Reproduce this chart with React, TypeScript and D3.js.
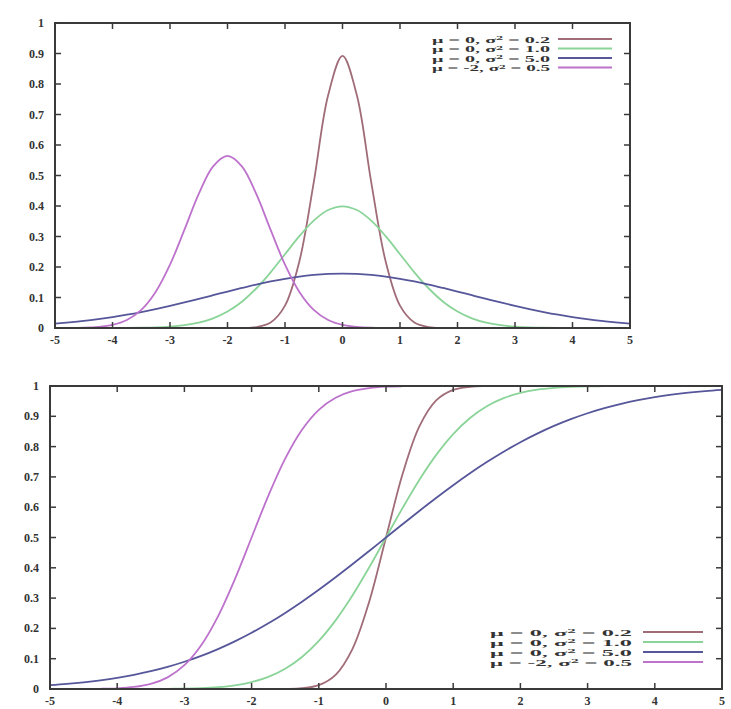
import React from 'react';
import * as d3 from 'd3';

// x grid shared by all series
const xValues = [
  -5, -4.75, -4.5, -4.25, -4, -3.75, -3.5, -3.25, -3, -2.75, -2.5, -2.25, -2, -1.75, -1.5, -1.25, -1, -0.75, -0.5, -0.25,
  0, 0.25, 0.5, 0.75, 1, 1.25, 1.5, 1.75, 2, 2.25, 2.5, 2.75, 3, 3.25, 3.5, 3.75, 4, 4.25, 4.5, 4.75, 5,
];

// top panel (density) values
const pdfRed = [
  0, 0, 0, 0, 0, 0, 0, 0, 0, 0, 0, 0, 0.00004, 0.0004, 0.0032, 0.018, 0.0732, 0.2187, 0.4775, 0.763,
  0.892, 0.763, 0.4775, 0.2187, 0.0732, 0.018, 0.0032, 0.0004, 0.00004, 0, 0, 0, 0, 0, 0, 0, 0, 0, 0, 0, 0,
];
const pdfGreen = [
  0, 0.00001, 0.00002, 0.00005, 0.00013, 0.00035, 0.00087, 0.002, 0.0044, 0.0091, 0.0175, 0.0317, 0.054, 0.0863, 0.1295, 0.1826, 0.242, 0.3011, 0.3521, 0.3867,
  0.3989, 0.3867, 0.3521, 0.3011, 0.242, 0.1826, 0.1295, 0.0863, 0.054, 0.0317, 0.0175, 0.0091, 0.0044, 0.002, 0.00087, 0.00035, 0.00013, 0.00005, 0.00002, 0.00001, 0,
];
const pdfBlue = [
  0.0146, 0.0187, 0.0235, 0.0293, 0.036, 0.0437, 0.0524, 0.062, 0.0725, 0.0837, 0.0955, 0.1075, 0.1196, 0.1313, 0.1425, 0.1526, 0.1614, 0.1687, 0.174, 0.1773,
  0.1784, 0.1773, 0.174, 0.1687, 0.1614, 0.1526, 0.1425, 0.1313, 0.1196, 0.1075, 0.0955, 0.0837, 0.0725, 0.062, 0.0524, 0.0437, 0.036, 0.0293, 0.0235, 0.0187, 0.0146,
];
const pdfMagenta = [
  0.0001, 0.0003, 0.0011, 0.0036, 0.0103, 0.0264, 0.0595, 0.1183, 0.2076, 0.3215, 0.4394, 0.53, 0.5642, 0.53, 0.4394, 0.3215, 0.2076, 0.1183, 0.0595, 0.0264,
  0.0103, 0.0036, 0.0011, 0.0003, 0.0001, 0, 0, 0, 0, 0, 0, 0, 0, 0, 0, 0, 0, 0, 0, 0, 0,
];

// bottom panel (cumulative) values
const cdfRed = [
  0, 0, 0, 0, 0, 0, 0, 0, 0, 0, 0, 0, 0, 0.00005, 0.0004, 0.0026, 0.0127, 0.0468, 0.1318, 0.2881,
  0.5, 0.7119, 0.8682, 0.9532, 0.9873, 0.9974, 0.9996, 0.99995, 1, 1, 1, 1, 1, 1, 1, 1, 1, 1, 1, 1, 1,
];
const cdfGreen = [
  0, 0, 0, 0, 0.00003, 0.0001, 0.0002, 0.0006, 0.0013, 0.003, 0.0062, 0.0122, 0.0228, 0.0401, 0.0668, 0.1056, 0.1587, 0.2266, 0.3085, 0.4013,
  0.5, 0.5987, 0.6915, 0.7734, 0.8413, 0.8944, 0.9332, 0.9599, 0.9772, 0.9878, 0.9938, 0.997, 0.9987, 0.9994, 0.9998, 0.9999, 1, 1, 1, 1, 1,
];
const cdfBlue = [
  0.0127, 0.0168, 0.0221, 0.0287, 0.0368, 0.0468, 0.0588, 0.0731, 0.0899, 0.1094, 0.1318, 0.1572, 0.1855, 0.2169, 0.2512, 0.2881, 0.3274, 0.3687, 0.4115, 0.4555,
  0.5, 0.5445, 0.5885, 0.6313, 0.6726, 0.7119, 0.7488, 0.7831, 0.8145, 0.8428, 0.8682, 0.8906, 0.9101, 0.9269, 0.9412, 0.9532, 0.9632, 0.9713, 0.9779, 0.9832, 0.9873,
];
const cdfMagenta = [
  0, 0.00005, 0.0002, 0.0007, 0.0023, 0.0067, 0.0169, 0.0385, 0.0786, 0.1444, 0.2398, 0.3618, 0.5, 0.6382, 0.7602, 0.8556, 0.9214, 0.9615, 0.9831, 0.9933,
  0.9977, 0.9993, 0.9998, 1, 1, 1, 1, 1, 1, 1, 1, 1, 1, 1, 1, 1, 1, 1, 1, 1, 1,
];

const seriesMu = [' 0', ' 0', ' 0', '-2'];
const seriesVar = ['0.2', '1.0', '5.0', '0.5'];
const seriesColors = ['#a06c78', '#8ad498', '#56569a', '#bd72cc'];

const xTicks = [-5, -4, -3, -2, -1, 0, 1, 2, 3, 4, 5];
const yTicks = [0, 0.1, 0.2, 0.3, 0.4, 0.5, 0.6, 0.7, 0.8, 0.9, 1];

type PanelProps = {
  left: number; right: number; top: number; bottom: number;
  series: number[][];
  legendX: number; legendTextW: number; legendLineX1: number; legendLineX2: number; legendY: number; legendStep: number;
  yLabelGap: number;
};

const FONT = '"Liberation Serif", "DejaVu Serif", serif';

function Panel(p: PanelProps) {
  const x = d3.scaleLinear().domain([-5, 5]).range([p.left, p.right]);
  const y = d3.scaleLinear().domain([0, 1]).range([p.bottom, p.top]);
  const line = d3
    .line<number>()
    .x((_, i) => x(xValues[i]))
    .y((d) => y(d))
    .curve(d3.curveCatmullRom.alpha(0.5));
  const tl = 6;
  const axisColor = '#3a3a3a';
  return (
    <g>
      {p.series.map((s, i) => (
        <path key={i} d={line(s) || ''} fill="none" stroke={seriesColors[i]} strokeWidth={1.8} />
      ))}
      <rect x={p.left} y={p.top} width={p.right - p.left} height={p.bottom - p.top} fill="none" stroke={axisColor} strokeWidth={2} />
      {xTicks.map((t) => (
        <g key={'x' + t}>
          <line x1={x(t)} x2={x(t)} y1={p.bottom} y2={p.bottom - tl} stroke={axisColor} strokeWidth={1.5} />
          <line x1={x(t)} x2={x(t)} y1={p.top} y2={p.top + tl} stroke={axisColor} strokeWidth={1.5} />
          <text x={x(t)} y={p.bottom + 16} textAnchor="middle" fontFamily={FONT} fontSize={12} fill="#333" fontWeight={600}>
            {t}
          </text>
        </g>
      ))}
      {yTicks.map((t) => (
        <g key={'y' + t}>
          <line x1={p.left} x2={p.left + tl} y1={y(t)} y2={y(t)} stroke={axisColor} strokeWidth={1.5} />
          <line x1={p.right} x2={p.right - tl} y1={y(t)} y2={y(t)} stroke={axisColor} strokeWidth={1.5} />
          <text x={p.left - p.yLabelGap} y={y(t) + 4} textAnchor="end" fontFamily={FONT} fontSize={12} fill="#333" fontWeight={600}>
            {t}
          </text>
        </g>
      ))}
      {seriesColors.map((c, i) => {
        const ly = p.legendY + i * p.legendStep;
        return (
          <g key={'lg' + i}>
            <text x={p.legendX} y={ly + 3.5} fontFamily={FONT} fontSize={8.5} fill="#333" fontWeight={600}
              textLength={p.legendTextW} lengthAdjust="spacingAndGlyphs">
              {'\u03bc = ' + seriesMu[i] + ', \u03c3'}
              <tspan dy={-2.5} fontSize={6}>2</tspan>
              <tspan dy={2.5}>{' = ' + seriesVar[i]}</tspan>
            </text>
            <line x1={p.legendLineX1} x2={p.legendLineX2} y1={ly} y2={ly} stroke={c} strokeWidth={1.8} />
          </g>
        );
      })}
    </g>
  );
}

export default function App() {
  return (
    <svg width={731} height={709} style={{ position: 'absolute', left: 0, top: 0, background: '#fff' }}>
      <rect x={0} y={0} width={731} height={709} fill="#fff" />
      <Panel
        left={55} right={630} top={23} bottom={328}
        series={[pdfRed, pdfGreen, pdfBlue, pdfMagenta]}
        legendX={432} legendTextW={118} legendLineX1={558} legendLineX2={612} legendY={39} legendStep={9.5}
        yLabelGap={11}
      />
      <Panel
        left={50} right={722} top={386} bottom={689}
        series={[cdfRed, cdfGreen, cdfBlue, cdfMagenta]}
        legendX={490} legendTextW={142} legendLineX1={643} legendLineX2={703} legendY={632} legendStep={10}
        yLabelGap={11}
      />
    </svg>
  );
}
